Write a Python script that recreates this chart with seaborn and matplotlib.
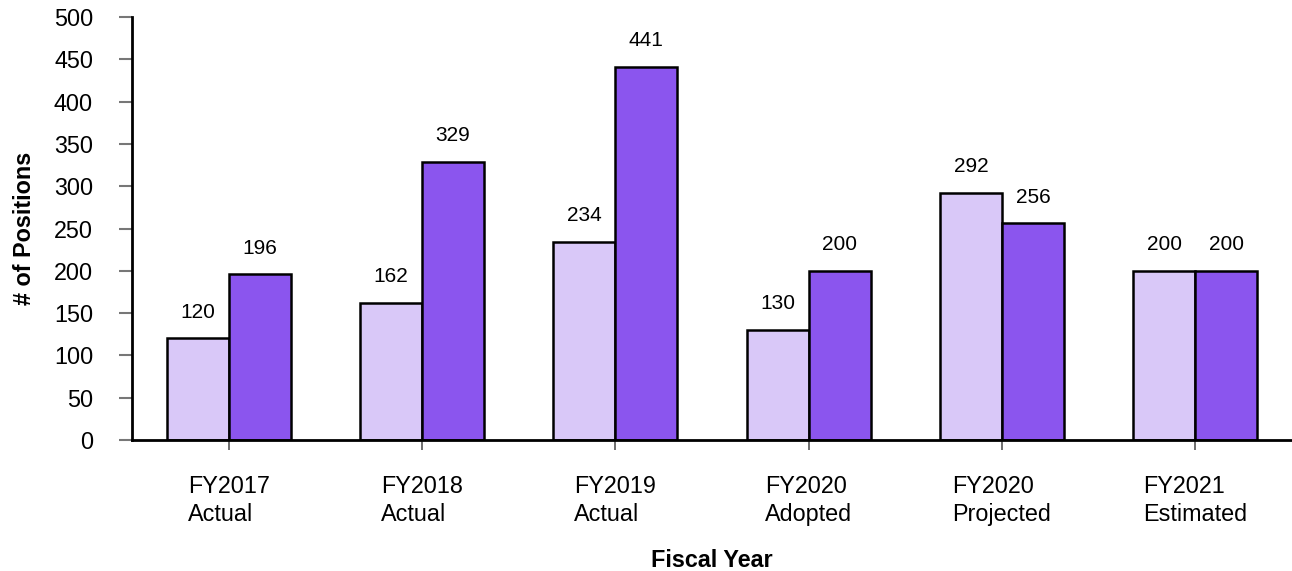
import matplotlib
matplotlib.use("Agg")
import matplotlib.pyplot as plt
import seaborn as sns
import pandas as pd

categories = ["FY2017\nActual", "FY2018\nActual", "FY2019\nActual",
              "FY2020\nAdopted", "FY2020\nProjected", "FY2021\nEstimated"]
series_a = [120, 162, 234, 130, 292, 200]
series_b = [196, 329, 441, 200, 256, 200]
series_names = ["A", "B"]
colors = ["#D9C8F8", "#8B55EE"]

df = pd.DataFrame({
    "cat": categories * 2,
    "val": series_a + series_b,
    "series": [series_names[0]] * len(categories) + [series_names[1]] * len(categories),
})

sns.set_style("white")
plt.rcParams["font.family"] = ["Liberation Sans", "DejaVu Sans"]
plt.rcParams["text.color"] = "black"
plt.rcParams["axes.labelcolor"] = "black"
plt.rcParams["xtick.color"] = "black"
plt.rcParams["ytick.color"] = "black"

fig = plt.figure(figsize=(12.92, 5.71), dpi=100)
ax = fig.add_axes([132 / 1292, 1 - 440 / 571, (1292 - 132) / 1292, (440 - 17) / 571])

sns.barplot(data=df, x="cat", y="val", hue="series", palette=colors,
            width=0.64, edgecolor="black", linewidth=1.8, ax=ax, legend=False,
            saturation=1)

for cont in ax.containers:
    ax.bar_label(cont, padding=12, fontsize=15, color="black")

ax.set_xlim(-0.5, 5.5)
ax.set_ylim(0, 500)
ax.set_yticks(range(0, 501, 50))
ax.tick_params(axis="y", labelsize=16.8, length=9.5, width=1.5, color="#777777",
               labelcolor="black", direction="out", left=True, pad=18.5)
ax.tick_params(axis="x", labelsize=16.8, length=7, width=1.2, color="#555555",
               labelcolor="black", direction="out", bottom=True, pad=18)
for lbl in ax.get_xticklabels():
    lbl.set_multialignment("left")
    lbl.set_linespacing(1.3)

for s in ["top", "right"]:
    ax.spines[s].set_visible(False)
for s in ["left", "bottom"]:
    ax.spines[s].set_color("black")
    ax.spines[s].set_linewidth(2)

ax.set_ylabel("# of Positions", fontsize=16.8, fontweight="bold", va="center")
ax.yaxis.set_label_coords((25 - 132) / 1160, 0.5)
ax.set_xlabel("Fiscal Year", fontsize=16.8, fontweight="bold", va="top")
ax.xaxis.set_label_coords(0.5, -(549 - 440) / 423)

fig.savefig("out.png", dpi=100)
